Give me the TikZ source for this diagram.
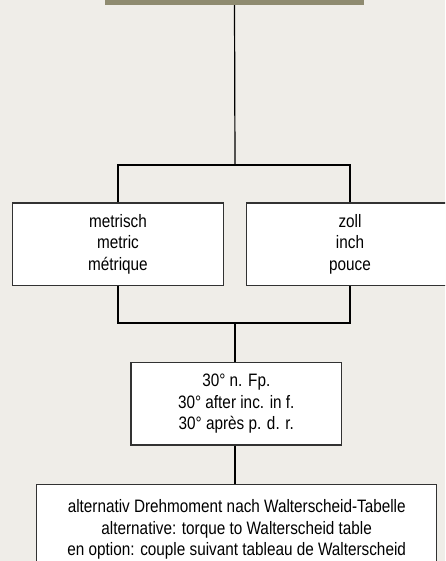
\documentclass[tikz,border=0pt]{standalone}
\usepackage{xcolor}
\usepackage{fontspec}
\usepackage{tikz}
\usetikzlibrary{positioning}
\setmainfont[FakeStretch=0.85]{Liberation Sans}

\definecolor{paper}{RGB}{239,237,232}
\definecolor{olive}{RGB}{143,139,112}
\definecolor{rim}{RGB}{50,50,50}

\tikzset{
	box/.style={draw=rim, fill=white, line width=1.2pt, align=center,
		font=\fontsize{18}{21.7}\selectfont, inner sep=0pt},
	link/.style={line width=1.2pt, black}
}

\begin{document}
\begin{tikzpicture}[x=1pt, y=-1pt]
	\fill[paper] (0,0) rectangle (445,561);
	\clip (0,0) rectangle (445,561);
	\node[fill=olive, minimum width=259pt, minimum height=30pt, inner sep=0pt] (head) at (234.5,-10) {};
	\coordinate (split) at (235,165);
	\coordinate (merge) at (235,323);
	\node[box, minimum width=210.5pt, minimum height=82.5pt] (metric) at (118,244.3) {metrisch\\metric\\métrique};
	\node[box, minimum width=207.5pt, minimum height=82.5pt] (inch) at (350,244.3) {zoll\\inch\\pouce};
	\node[box, minimum width=210.7pt, minimum height=82.3pt] (angle) at (236.3,403.8) {30° n. Fp.\\30° after inc. in f.\\30° après p. d. r.};
	\node[box, minimum width=400pt, minimum height=90pt, anchor=north] (torque) at (236.7,484)
		{alternativ Drehmoment nach Walterscheid-Tabelle\\alternative: torque to Walterscheid table\\en option: couple suivant tableau de Walterscheid};
	\draw[link] (head.south) -- (split);
	\draw[link] (metric.north) |- (split) -| (inch.north);
	\draw[link] (metric.south) |- (merge) -| (inch.south);
	\draw[link] (merge) -- (merge |- angle.north);
	\draw[link] (angle.south -| merge) -- (merge |- torque.north);
\end{tikzpicture}
\end{document}
